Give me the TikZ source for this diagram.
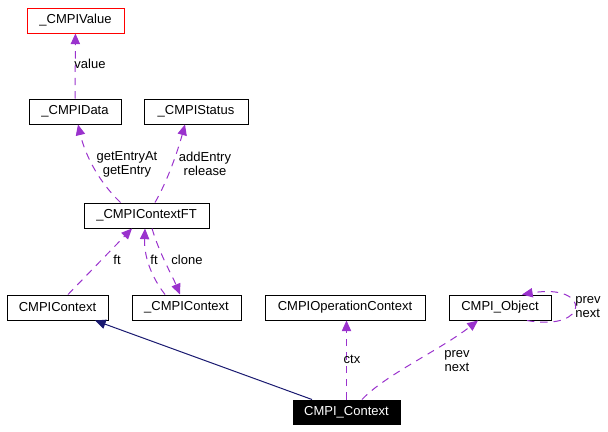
\documentclass[tikz,border=0pt]{standalone}
\usepackage{fontspec}
\setmainfont{Liberation Sans}
\usetikzlibrary{arrows.meta}
\definecolor{edgepurple}{RGB}{154,50,205}
\definecolor{edgenavy}{RGB}{25,25,112}
\begin{document}
\begin{tikzpicture}[x=0.75pt,y=0.75pt,yscale=-1,xscale=1,
  cls/.style={draw,line width=0.75pt,inner sep=0pt,minimum height=18.75pt,font=\fontsize{9.75}{11}\selectfont},
  usedby/.style={draw=edgepurple,line width=0.75pt,dash pattern=on 5.5pt off 4.5pt,-{Triangle[length=8pt,width=7pt]},color=edgepurple},
  inherit/.style={draw=edgenavy,line width=0.75pt,-{Triangle[length=8pt,width=7pt]},color=edgenavy},
  lbl/.style={inner sep=0.75pt,align=center,font=\fontsize{9.75}{10.5}\selectfont}]
\useasboundingbox (0,0) rectangle (608,432);

% Class Nodes
\node [cls,draw=red,minimum width=72.75pt] (value) at (75.5,20.5) {\_CMPIValue};
\node [cls,minimum width=69pt] (data) at (75,111.5) {\_CMPIData};
\node [cls,minimum width=78pt] (status) at (196,111.5) {\_CMPIStatus};
\node [cls,minimum width=93.75pt] (ctxft) at (146.5,215.5) {\_CMPIContextFT};
\node [cls,minimum width=75.75pt] (cmpictx) at (57.5,307.5) {CMPIContext};
\node [cls,minimum width=81.75pt] (uctx) at (186.5,307.5) {\_CMPIContext};
\node [cls,minimum width=120pt] (opctx) at (345,307.5) {CMPIOperationContext};
\node [cls,minimum width=76.5pt] (obj) at (500,307.5) {CMPI\_Object};
\node [cls,fill=black,text=white,minimum width=80.25pt,minimum height=18pt] (ctx) at (346.5,412) {CMPI\_Context};

% Connectors
\draw [usedby] (data) -- (value);
\draw [usedby] ([xshift=-19.5pt]ctxft.north) .. controls (95,178) and (84,150) .. ([xshift=2.25pt]data.south);
\draw [usedby] ([xshift=6.375pt]ctxft.north) .. controls (168,180) and (178,150) .. ([xshift=-8.25pt]status.south);
\draw [usedby] ([xshift=7.875pt]cmpictx.north) -- ([xshift=-10.875pt]ctxft.south);
\draw [usedby] ([xshift=-16.125pt]uctx.north) .. controls (150,275) and (144,255) .. ([xshift=-1.125pt]ctxft.south);
\draw [usedby] ([xshift=4.125pt]ctxft.south) .. controls (160,255) and (172,275) .. ([xshift=-4.875pt]uctx.north);
\draw [inherit] ([xshift=-25.875pt]ctx.north) -- ([xshift=28.125pt]cmpictx.south);
\draw [usedby] (ctx.north) -- (ctx.north |- opctx.south);
\draw [usedby] ([xshift=11.625pt]ctx.north) .. controls (385,375) and (440,350) .. ([xshift=-16.5pt]obj.south);
\draw [usedby] ([xshift=20.25pt]obj.south) .. controls (590,332) and (592,283) .. ([xshift=16.5pt]obj.north);

% Text Node
\node [lbl] (lvalue) at (90,64) {value};
\node [lbl] (lentry) at (127,164) {getEntryAt\\getEntry};
\node [lbl] (lstatus) at (205,164) {addEntry\\release};
\node [lbl] (lft) at (117,260) {ft};
\node [lbl] (lftb) at (154,260) {ft};
\node [lbl] (lclone) at (187,260) {clone};
\node [lbl] (lctx) at (352,359) {ctx};
\node [lbl] (lobj) at (457,361) {prev\\next};
\node [lbl,align=left] (lself) at (588,307) {prev\\next};
\end{tikzpicture}
\end{document}
